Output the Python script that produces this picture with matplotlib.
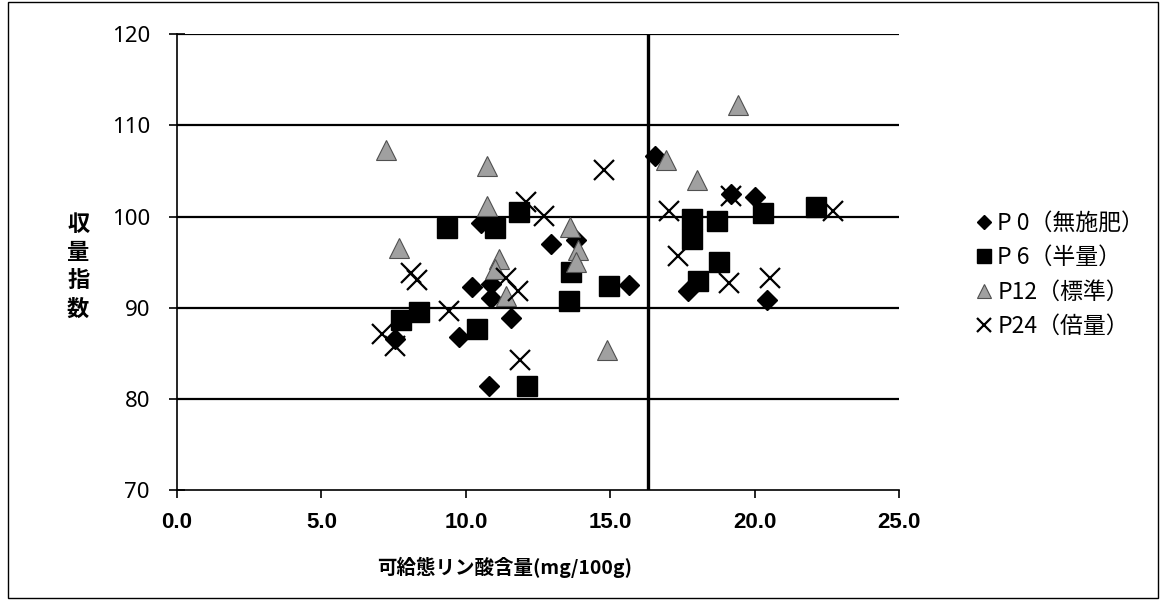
import matplotlib
matplotlib.use('Agg')
import matplotlib.pyplot as plt
from matplotlib.patches import Rectangle

plt.rcParams['font.family'] = ['Noto Sans CJK JP', 'DejaVu Sans']

# データ (可給態リン酸含量 mg/100g, 収量指数)
p0_x = [7.56, 9.76, 10.22, 10.51, 10.80, 10.86, 10.86, 11.58, 12.94, 13.80,
        15.66, 16.55, 17.70, 19.20, 20.00, 20.43]
p0_y = [86.6, 86.8, 92.3, 99.3, 81.4, 92.6, 91.1, 88.9, 97.0, 97.4,
        92.5, 106.7, 91.8, 102.5, 102.1, 90.9]

p6_x = [7.75, 8.37, 9.35, 10.40, 11.00, 11.84, 12.13, 13.58, 13.63, 14.97,
        17.85, 17.85, 18.03, 18.76, 18.70, 20.29, 22.14]
p6_y = [88.6, 89.5, 98.8, 87.7, 98.8, 100.5, 81.4, 90.7, 93.9, 92.4,
        99.7, 97.5, 92.9, 95.0, 99.5, 100.4, 101.0]

p12_x = [7.25, 7.70, 10.74, 10.74, 11.15, 11.00, 11.38, 13.60, 13.87, 13.80,
         14.90, 16.93, 18.00, 19.42]
p12_y = [107.3, 96.6, 105.5, 101.2, 95.4, 94.2, 91.3, 98.9, 96.3, 95.0,
         85.4, 106.2, 104.0, 112.2]

p24_x = [7.10, 7.56, 8.10, 8.30, 9.41, 11.40, 11.80, 11.88, 12.07, 12.70,
         14.79, 17.05, 17.34, 19.13, 19.20, 20.52, 22.72]
p24_y = [87.1, 85.8, 93.8, 93.0, 89.6, 93.3, 91.8, 84.3, 101.6, 100.1,
         105.1, 100.65, 95.7, 92.75, 102.3, 93.3, 100.65]

labels = ['P 0（無施肥）', 'P 6（半量）', 'P12（標準）', 'P24（倍量）']
x_ticks = [0.0, 5.0, 10.0, 15.0, 20.0, 25.0]
y_ticks = [70, 80, 90, 100, 110, 120]
threshold = 16.3

fig = plt.figure(figsize=(11.61, 6.03), dpi=100)
ax = fig.add_axes([0.1525, 0.1874, 0.6218, 0.7557])

# 横の目盛線と縦の基準線
for yv in y_ticks[1:]:
    ax.axhline(yv, color='black', lw=1.6, zorder=1)
ax.axvline(threshold, color='black', lw=2.4, zorder=1)

ax.plot(p0_x, p0_y, ls='none', marker='D', ms=10, color='black', label=labels[0], zorder=3)
ax.plot(p6_x, p6_y, ls='none', marker='s', ms=15, color='black', label=labels[1], zorder=4)
ax.plot(p12_x, p12_y, ls='none', marker='^', ms=15, mfc='#a0a0a0', mec='#505050', mew=0.8,
        label=labels[2], zorder=5)
ax.plot(p24_x, p24_y, ls='none', marker='x', ms=15, mew=1.6, color='black', label=labels[3], zorder=6)

ax.set_xlim(0, 25)
ax.set_ylim(70, 120)
ax.set_xticks(x_ticks)
ax.set_xticklabels([f'{v:.1f}' for v in x_ticks], family='Liberation Sans', fontweight='bold', fontsize=16)
ax.set_yticks(y_ticks)
ax.set_yticklabels([str(v) for v in y_ticks], family='Noto Sans', fontsize=16)
ax.tick_params(axis='y', direction='inout', length=11, width=1.2, pad=14)
ax.tick_params(axis='x', direction='out', length=6, width=1.2, pad=10)

for s in ['top', 'right']:
    ax.spines[s].set_visible(False)
ax.spines['left'].set_linewidth(1.2)
ax.spines['bottom'].set_linewidth(1.2)

ax.set_xlabel('可給態リン酸含量(mg/100g)', fontsize=14, fontweight='bold', ha='left', va='center')
ax.xaxis.set_label_coords(0.277, -0.169)
ax.set_ylabel('収\n量\n指\n数', rotation=0, fontsize=16, fontweight='bold',
              ha='center', va='center', linespacing=1.3)
ax.yaxis.set_label_coords(-0.137, 0.49)

leg = ax.legend(loc='center left', bbox_to_anchor=(955 / 1161, 1 - 275 / 603),
                bbox_transform=fig.transFigure, frameon=False, fontsize=16.5,
                markerscale=0.7, handlelength=0.7, handletextpad=0.25, labelspacing=0.5)

# 外枠
fig.patches.append(Rectangle((0.007, 0.008), 0.99, 0.989, transform=fig.transFigure,
                             fill=False, edgecolor='black', lw=1))

fig.savefig('out.png', dpi=100, facecolor='white')
